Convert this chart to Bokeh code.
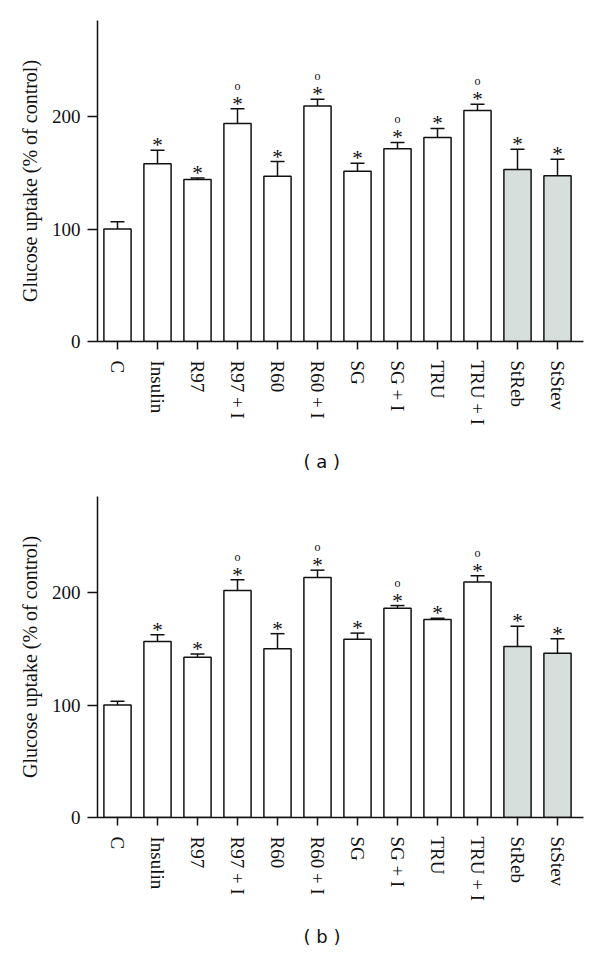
from bokeh.plotting import figure
from bokeh.layouts import column
from bokeh.models import Range1d, FixedTicker, Whisker, TeeHead, ColumnDataSource, Title
from bokeh.embed import file_html
from bokeh.resources import INLINE

# ---- data ----
categories = ["C", "Insulin", "R97", "R97 + I", "R60", "R60 + I",
              "SG", "SG + I", "TRU", "TRU + I", "StReb", "StStev"]
uptake_a = [100, 158, 144, 194, 147, 209.5, 151.5, 171.5, 181.5, 205.5, 153, 147.5]
sem_a = [6.5, 12, 1.5, 13, 13, 6, 7, 5.5, 8, 5.5, 18, 14.5]
uptake_b = [100, 156.5, 142.5, 202, 150, 213.5, 158.5, 186, 176, 209.5, 152, 146]
sem_b = [3.5, 6, 3, 9.5, 13.5, 6.5, 5.5, 2.5, 1.2, 5.5, 18, 13]
star_mark = ["", "*", "*", "*", "*", "*", "*", "*", "*", "*", "*", "*"]
circle_mark = ["", "", "", "o", "", "o", "", "o", "", "o", "", ""]
bar_fill = ["white"] * 10 + ["#d7dfdc", "#d7dfdc"]
y_ticks = [0, 100, 200]
y_title = "Glucose uptake (% of control)"

SERIF = "Liberation Serif"
INK = "#111111"


def panel(means, sems, caption, border_top, border_bottom, title_standoff):
    pos = list(range(1, len(categories) + 1))
    upper = [m + s for m, s in zip(means, sems)]
    src = ColumnDataSource(dict(x=pos, top=means, upper=upper, fill=bar_fill,
                                star=star_mark, circ=circle_mark))
    p = figure(frame_width=486, frame_height=321,
               x_range=Range1d(0.5, 12.65), y_range=Range1d(0, 285.5),
               output_backend="svg", toolbar_location=None,
               min_border_left=97, min_border_right=4, min_border_top=border_top,
               min_border_bottom=border_bottom)
    p.outline_line_color = None
    p.grid.visible = False
    p.background_fill_color = "white"

    p.vbar(x="x", top="top", bottom=0, width=0.68, fill_color="fill",
           line_color=INK, line_width=1.5, source=src)
    w = Whisker(base="x", lower="top", upper="upper", source=src,
                line_color=INK, line_width=1.5,
                upper_head=TeeHead(size=14, line_color=INK, line_width=1.5),
                lower_head=None)
    p.add_layout(w)

    p.text(x="x", y="upper", text="star", source=src, text_font=SERIF,
           text_font_size="21px", text_align="center", text_baseline="alphabetic",
           y_offset=-5, text_color=INK)
    p.text(x="x", y="upper", text="circ", source=src, text_font="DejaVu Sans",
           text_font_size="12px", text_align="center", text_baseline="alphabetic",
           y_offset=-23, text_color=INK)

    xa = p.xaxis[0]
    xa.ticker = FixedTicker(ticks=pos)
    xa.major_label_overrides = {i: c for i, c in zip(pos, categories)}
    xa.major_label_orientation = "vertical"
    xa.major_label_text_font = SERIF
    xa.major_label_text_font_size = "19px"
    xa.major_label_text_color = INK
    xa.major_label_standoff = 11
    xa.major_tick_out = 8
    xa.major_tick_in = 0
    xa.minor_tick_out = 0
    xa.minor_tick_in = 0
    xa.axis_line_width = 1.5
    xa.major_tick_line_width = 1.5
    xa.axis_line_color = INK
    xa.major_tick_line_color = INK

    ya = p.yaxis[0]
    ya.ticker = FixedTicker(ticks=y_ticks)
    ya.axis_label = y_title
    ya.axis_label_text_font = SERIF
    ya.axis_label_text_font_size = "20px"
    ya.axis_label_text_font_style = "normal"
    ya.axis_label_text_color = INK
    ya.axis_label_standoff = 8
    ya.major_label_text_font = SERIF
    ya.major_label_text_font_size = "19px"
    ya.major_label_text_color = INK
    ya.major_label_standoff = 7
    ya.major_tick_out = 10
    ya.major_tick_in = 0
    ya.minor_tick_out = 0
    ya.minor_tick_in = 0
    ya.axis_line_width = 1.5
    ya.major_tick_line_width = 1.5
    ya.axis_line_color = INK
    ya.major_tick_line_color = INK

    t = Title(text=caption, align="left", offset=206, text_font="DejaVu Sans",
              text_font_size="18px", text_font_style="normal", text_color=INK,
              standoff=title_standoff)
    p.add_layout(t, "below")
    return p


pa = panel(uptake_a, sem_a, "( a )", 20, 144, 40)
pb = panel(uptake_b, sem_b, "( b )", 5, 130, 38)
layout = column(pa, pb, spacing=0)

open("out.html", "w").write(file_html(layout, INLINE))
